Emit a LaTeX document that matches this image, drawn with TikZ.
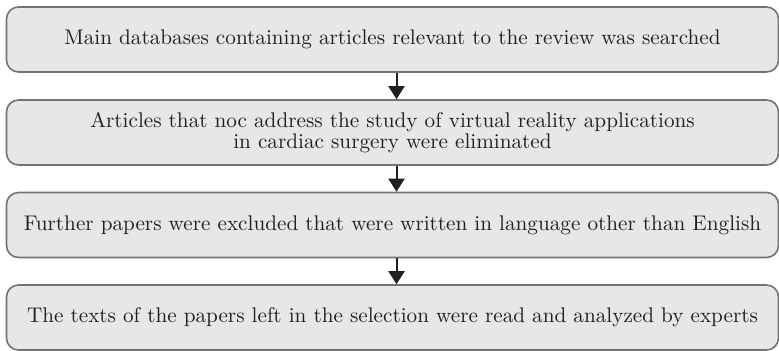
\documentclass[tikz,border=0pt]{standalone}
\usepackage{tikz}
\usetikzlibrary{arrows.meta}

\definecolor{boxfill}{RGB}{230,231,232}
\definecolor{boxline}{RGB}{115,115,115}
\definecolor{boxtext}{RGB}{35,31,32}

\tikzset{
    stepbox/.style={draw=boxline, fill=boxfill, line width=0.8pt, rounded corners=6pt,
        minimum width=386pt, minimum height=32.5pt, align=center, inner sep=0pt,
        text=boxtext, font=\fontsize{10.6pt}{10.5pt}\selectfont},
    flowarrow/.style={-{Triangle[length=6.5pt,width=8pt]}, line width=1pt, boxtext}
}

\begin{document}
\begin{tikzpicture}[x=0.5pt, y=-0.5pt]
    \useasboundingbox (0,0) rectangle (779,350);

    % The four steps of the selection
    \node[stepbox] (search) at (392.5, 39.5) {Main databases containing articles relevant to the review was searched};
    \node[stepbox] (topic) at (392.5, 132.5) {Articles that noc address the study of virtual reality applications\\
        in cardiac surgery were eliminated};
    \node[stepbox] (language) at (392.5, 225) {Further papers were excluded that were written in language other than English};
    \node[stepbox] (read) at (392.5, 317.5) {The texts of the papers left in the selection were read and analyzed by experts};

    % Arrows between the steps
    \draw[flowarrow] ([xshift=2pt]search.south) -- ([xshift=2pt]topic.north);
    \draw[flowarrow] ([xshift=2pt]topic.south) -- ([xshift=2pt]language.north);
    \draw[flowarrow] ([xshift=2pt]language.south) -- ([xshift=2pt]read.north);
\end{tikzpicture}
\end{document}
